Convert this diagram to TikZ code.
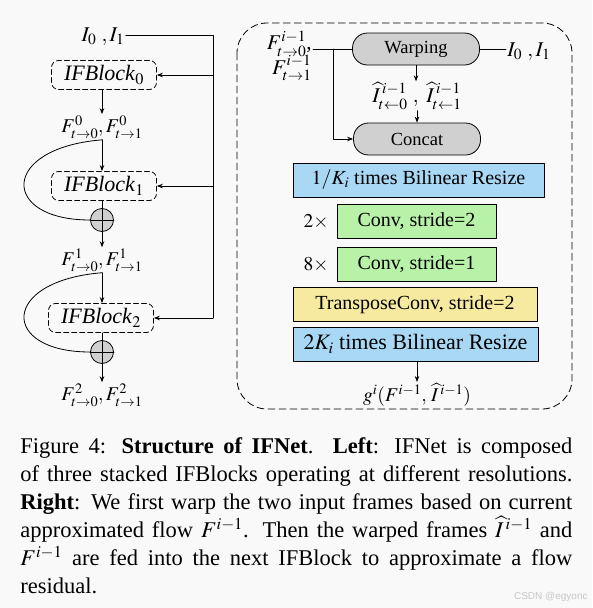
\documentclass[tikz,border=0pt]{standalone}
\usepackage{mathptmx}
\usepackage{amsmath}
\usepackage{fontspec}
\setmainfont{Liberation Serif}
\setsansfont{Liberation Sans}
\usepackage{xcolor}
\usepackage{tikz}
\usetikzlibrary{arrows.meta}

\definecolor{azzurro}{RGB}{168,216,244}
\definecolor{verde}{RGB}{184,242,168}
\definecolor{giallo}{RGB}{246,234,160}
\definecolor{grigio}{RGB}{208,208,208}
\definecolor{sfondo}{RGB}{249,249,249}

\tikzset{
  blocco/.style={draw, dashed, dash pattern=on 5pt off 3pt, rounded corners=7pt,
    minimum width=105pt, minimum height=29pt, inner sep=0pt,
    font=\fontsize{22}{24}\selectfont},
  somma/.style={circle, draw, fill=grigio, minimum size=23pt, inner sep=0pt},
  pillola/.style={draw, fill=grigio, rounded corners=15pt, minimum width=127pt,
    minimum height=32pt, inner sep=0pt, font=\fontsize{18.5}{20}\selectfont},
  strato/.style={draw, line width=0.9pt, minimum height=34pt, inner sep=0pt,
    font=\fontsize{20}{22}\selectfont},
  etich/.style={inner sep=1pt, font=\fontsize{19.5}{21}\selectfont},
}

\begin{document}
\begin{tikzpicture}[x=1pt, y=-1pt, >={Stealth[length=6pt,width=4.5pt]},
  line cap=round, line join=round, line width=0.8pt]

\path[use as bounding box, fill=sfondo] (0,0) rectangle (592,608);

% Colonna sinistra
\node[etich, font=\fontsize{21}{23}\selectfont] (in) at (103,37) {$I_0\ ,I_1$};
\node[blocco] (blk0) at (104,75) {\textit{IFBlock}$_0$};
\node[etich] (f0) at (102,127) {$F^0_{t\rightarrow0},F^0_{t\rightarrow1}$};
\node[blocco] (blk1) at (104,186) {\textit{IFBlock}$_1$};
\node[somma] (sum1) at (102,220) {};
\node[etich] (f1) at (102,260) {$F^1_{t\rightarrow0},F^1_{t\rightarrow1}$};
\node[blocco] (blk2) at (101,318) {\textit{IFBlock}$_2$};
\node[somma] (sum2) at (102,352) {};
\node[etich] (f2) at (102,395) {$F^2_{t\rightarrow0},F^2_{t\rightarrow1}$};
\coordinate (bus) at (213,35);

\draw (sum1.north) -- (sum1.south) (sum1.west) -- (sum1.east);
\draw (sum2.north) -- (sum2.south) (sum2.west) -- (sum2.east);

\draw (in.east |- bus) -- (bus) -- (bus |- blk2);
\draw[->] (bus |- blk0) -- (blk0.east);
\draw[->] (bus |- blk1) -- (blk1.east);
\draw[->] (bus |- blk2) -- (blk2.east);

\draw[->] (blk0.south -| f0) -- (f0.north);
\draw[->] (f0.south) -- (f0.south |- blk1.north);
\draw (blk1.south -| sum1) -- (sum1.north);
\draw[->] (sum1.south) -- (f1.north);
\draw[->] (f1.south) -- (f1.south |- blk2.north);
\draw (blk2.south -| sum2) -- (sum2.north);
\draw[->] (sum2.south) -- (f2.north);

% Residui
\draw (f0.south) .. controls (0,148) and (0,220) .. (sum1.west);
\draw (f1.south) .. controls (0,281) and (0,352) .. (sum2.west);

% Pannello destro
\draw[dashed, dash pattern=on 7pt off 4pt, rounded corners=30pt] (237,23) rectangle (572,409);

\node[pillola] (warp) at (416,49) {Warping};
\node[pillola] (concat) at (417,139) {Concat};
\node[etich, anchor=east, align=right, font=\fontsize{21}{23}\selectfont] (fprev) at (313,56)
  {$F^{i-1}_{t\rightarrow0}$,\\[-2pt]$F^{i-1}_{t\rightarrow1}$};
\node[etich, anchor=west, font=\fontsize{21}{23}\selectfont] (inw) at (506,52) {$I_0\ ,I_1$};
\node[etich, font=\fontsize{21}{23}\selectfont] (ihat) at (417,96)
  {$\widehat{I}^{\,i-1}_{t\leftarrow0}\ ,\ \widehat{I}^{\,i-1}_{t\leftarrow1}$};
\coordinate (ramo) at (333,49);

\draw (fprev.east |- warp) -- (warp.west);
\draw (warp.east) -- (inw.west |- warp);
\draw[->] (ramo) |- (concat.west);
\draw[->] (warp.south) -- (warp.south |- ihat.north);
\draw[->] (ihat.south) -- (ihat.south |- concat.north);

% Strati
\node[strato, fill=azzurro, minimum width=251pt] (res1) at (418.5,180) {$1/K_i$ times Bilinear Resize};
\node[strato, fill=verde, minimum width=159pt] (conv2) at (416.5,221) {Conv, stride=2};
\node[strato, fill=verde, minimum width=159pt] (conv1) at (416.5,264) {Conv, stride=1};
\node[strato, fill=giallo, minimum width=244pt] (tconv) at (415,304.5) {TransposeConv, stride=2};
\node[strato, fill=azzurro, minimum width=245pt, font=\fontsize{22}{24}\selectfont] (res2) at (415.5,344) {$2K_i$ times Bilinear Resize};
\node[etich, anchor=east] (rip2) at (330,222) {$2\times$};
\node[etich, anchor=east] (rip8) at (330,265) {$8\times$};
\node[etich] (out) at (417,395) {$g^i(F^{i-1},\,\widehat{I}^{\,i-1})$};

\draw[->] (res2.south -| out) -- (out.north);

% Didascalia
\node[anchor=north west, inner sep=0pt, text width=552pt, align=justify,
  font=\fontsize{22.5}{28}\selectfont] (didas) at (20,437)
  {Figure 4: \textbf{Structure of IFNet}.\ \ \textbf{Left}: IFNet is composed\linebreak
   of three stacked IFBlocks operating at different resolutions.\linebreak
   \textbf{Right}: We first warp the two input frames based on current\linebreak
   approximated flow $F^{i-1}$. Then the warped frames $\widehat{I}^{\,i-1}$ and\linebreak
   $F^{i-1}$ are fed into the next IFBlock to approximate a flow\linebreak
   residual.};

\node[anchor=east, inner sep=0pt, text=gray!45, font=\sffamily\fontsize{10}{12}\selectfont] (marchio) at (588,597) {CSDN @egyonc};

\end{tikzpicture}
\end{document}
